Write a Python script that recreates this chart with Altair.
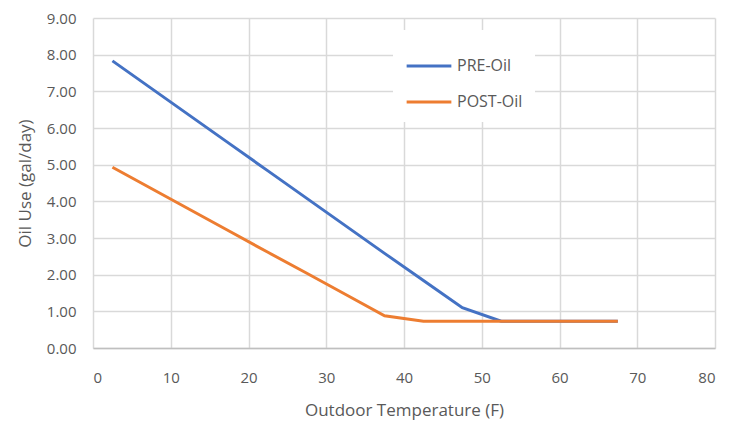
import altair as alt
import pandas as pd

temps = [2.5, 7.5, 12.5, 17.5, 22.5, 27.5, 32.5, 37.5, 42.5, 47.5, 52.5, 57.5, 62.5, 67.5]
pre_oil = [7.83, 7.08, 6.33, 5.58, 4.83, 4.08, 3.33, 2.58, 1.84, 1.10, 0.73, 0.73, 0.73, 0.73]
post_oil = [4.93, 4.35, 3.77, 3.19, 2.61, 2.04, 1.46, 0.88, 0.73, 0.73, 0.73, 0.73, 0.73, 0.73]
series = ["PRE-Oil", "POST-Oil"]
colors = ["#4472C4", "#ED7D31"]

rows = []
for t, v in zip(temps, pre_oil):
    rows.append({"temp": t, "oil": v, "series": series[0]})
for t, v in zip(temps, post_oil):
    rows.append({"temp": t, "oil": v, "series": series[1]})
df = pd.DataFrame(rows)

font = "Open Sans"
txt = "#595959"

chart = alt.Chart(df).mark_line(strokeWidth=3).encode(
    x=alt.X("temp:Q", scale=alt.Scale(domain=[0, 80], nice=False),
            axis=alt.Axis(values=list(range(0, 81, 10)), title="Outdoor Temperature (F)",
                          labelFontSize=15, titleFontSize=17, labelPadding=22,
                          titlePadding=17, titleFontWeight="normal")),
    y=alt.Y("oil:Q", scale=alt.Scale(domain=[0, 9], nice=False),
            axis=alt.Axis(values=list(range(0, 10)), format=".2f", title="Oil Use (gal/day)",
                          labelFontSize=15, titleFontSize=17, labelPadding=17,
                          titlePadding=12, titleFontWeight="normal")),
    color=alt.Color("series:N", scale=alt.Scale(domain=series, range=colors),
                    sort=series,
                    legend=alt.Legend(title=None, orient="none", legendX=300, legendY=12,
                                      symbolType="stroke", symbolSize=2000, symbolStrokeWidth=3,
                                      labelFontSize=16, labelFont=font, labelColor=txt,
                                      rowPadding=4, padding=12, fillColor="white",
                                      labelOffset=4)),
).properties(
    width=622, height=330,
    autosize=alt.AutoSizeParams(type="none"),
    padding={"left": 85, "top": 10, "right": 4, "bottom": 72},
).configure_view(stroke=None).configure_axis(
    grid=True, gridColor="#d9d9d9", gridWidth=1.5, ticks=False,
    domain=False, labelFont=font, titleFont=font, labelColor=txt, titleColor=txt,
).configure_axisX(domain=True, domainColor="#bfbfbf", domainWidth=1.5)

chart.save("out.html", embed_options={"renderer": "svg", "actions": False})
